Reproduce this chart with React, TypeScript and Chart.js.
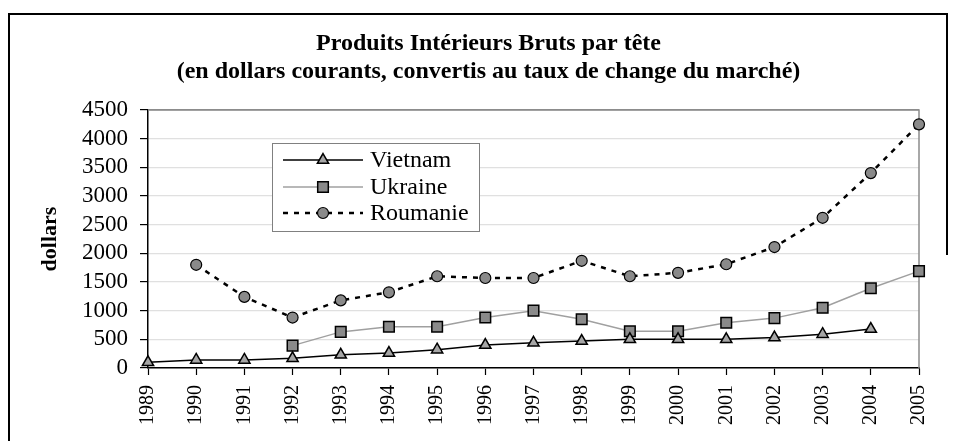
import React, { useEffect, useRef } from 'react';
import { Chart, registerables } from 'chart.js';
import { drawPoint } from 'chart.js/helpers';

Chart.register(...registerables);

const years = ['1989', '1990', '1991', '1992', '1993', '1994', '1995', '1996', '1997', '1998', '1999', '2000', '2001', '2002', '2003', '2004', '2005'];
const vietnam = [100, 140, 140, 170, 230, 260, 320, 400, 440, 470, 500, 500, 500, 530, 590, 680, null];
const ukraine = [null, null, null, 390, 630, 720, 720, 880, 1000, 850, 640, 640, 790, 870, 1050, 1390, 1690];
const roumanie = [null, 1800, 1240, 880, 1180, 1320, 1600, 1570, 1570, 1870, 1600, 1660, 1810, 2110, 2620, 3400, 4250];
const seriesNames = ['Vietnam', 'Ukraine', 'Roumanie'];
const yTicks = [0, 500, 1000, 1500, 2000, 2500, 3000, 3500, 4000, 4500];
const titleLines = ['Produits Intérieurs Bruts par tête', '(en dollars courants, convertis au taux de change du marché)'];
const yTitle = 'dollars';

const SERIF = "'Liberation Serif', 'Times New Roman', serif";
const yMin = yTicks[0];
const yMax = yTicks[yTicks.length - 1];

const framePlugin = {
  id: 'frame',
  beforeDraw(chart: any) {
    const { ctx, width, height } = chart;
    ctx.save();
    ctx.fillStyle = '#fff';
    ctx.fillRect(0, 0, width, height);
    ctx.strokeStyle = '#000';
    ctx.lineWidth = 2;
    ctx.beginPath();
    ctx.moveTo(9, height);
    ctx.lineTo(9, 14);
    ctx.lineTo(947, 14);
    ctx.lineTo(947, 255);
    ctx.stroke();
    ctx.restore();
  },
};

const plotBorderPlugin = {
  id: 'plotBorder',
  beforeDatasetsDraw(chart: any) {
    const { ctx, chartArea } = chart;
    ctx.save();
    ctx.strokeStyle = '#8c8c8c';
    ctx.lineWidth = 1.5;
    ctx.beginPath();
    ctx.moveTo(chartArea.left, chartArea.top);
    ctx.lineTo(chartArea.right, chartArea.top);
    ctx.lineTo(chartArea.right, chartArea.bottom);
    ctx.stroke();
    ctx.restore();
  },
};

const innerLegendPlugin = {
  id: 'innerLegend',
  afterDatasetsDraw(chart: any) {
    const { ctx, chartArea } = chart;
    const bx = chartArea.left + 124;
    const by = chartArea.top + 33;
    const bw = 207;
    const bh = 88;
    ctx.save();
    ctx.fillStyle = '#fff';
    ctx.fillRect(bx, by, bw, bh);
    ctx.strokeStyle = '#808080';
    ctx.lineWidth = 1;
    ctx.strokeRect(bx + 0.5, by + 0.5, bw, bh);
    const rows = [17, 44, 70];
    chart.data.datasets.forEach((ds: any, i: number) => {
      const y = by + rows[i];
      ctx.save();
      ctx.strokeStyle = ds.borderColor;
      ctx.lineWidth = ds.borderWidth;
      ctx.setLineDash(ds.borderDash || []);
      ctx.beginPath();
      ctx.moveTo(bx + 11, y);
      ctx.lineTo(bx + 91, y);
      ctx.stroke();
      ctx.restore();
      ctx.save();
      ctx.fillStyle = ds.pointBackgroundColor;
      ctx.strokeStyle = ds.pointBorderColor;
      ctx.lineWidth = ds.pointBorderWidth;
      drawPoint(ctx, { pointStyle: ds.pointStyle, radius: ds.pointRadius, borderWidth: ds.pointBorderWidth, rotation: 0 } as any, bx + 51, y);
      ctx.restore();
      ctx.fillStyle = '#000';
      ctx.font = `24px ${SERIF}`;
      ctx.textBaseline = 'middle';
      ctx.textAlign = 'left';
      ctx.fillText(ds.label, bx + 98, y + 1);
    });
    ctx.restore();
  },
};

export default function App() {
  const ref = useRef<HTMLCanvasElement | null>(null);
  useEffect(() => {
    if (!ref.current) return;
    const chart = new Chart(ref.current, {
      type: 'line',
      data: {
        labels: years,
        datasets: [
          {
            label: seriesNames[0],
            data: vietnam,
            borderColor: '#000',
            borderWidth: 1.5,
            pointStyle: 'triangle',
            pointRadius: 6.5,
            pointBackgroundColor: '#a6a6a6',
            pointBorderColor: '#000',
            pointBorderWidth: 1.5,
            tension: 0,
          },
          {
            label: seriesNames[1],
            data: ukraine,
            borderColor: '#a0a0a0',
            borderWidth: 1.5,
            pointStyle: 'rect',
            pointRadius: 7.5,
            pointBackgroundColor: '#8a8a8a',
            pointBorderColor: '#000',
            pointBorderWidth: 1.5,
            tension: 0,
          },
          {
            label: seriesNames[2],
            data: roumanie,
            borderColor: '#000',
            borderWidth: 2.5,
            borderDash: [5, 6],
            pointStyle: 'circle',
            pointRadius: 5.5,
            pointBackgroundColor: '#8a8a8a',
            pointBorderColor: '#000',
            pointBorderWidth: 1.2,
            tension: 0,
          },
        ] as any,
      },
      options: {
        responsive: false,
        animation: false,
        devicePixelRatio: 1,
        layout: { padding: { left: 52, right: 28, top: 16, bottom: 10 } },
        plugins: {
          legend: { display: false },
          tooltip: { enabled: false },
          title: {
            display: true,
            text: titleLines,
            color: '#000',
            font: { family: SERIF, size: 24, weight: 'bold', lineHeight: '28px' as any },
            padding: { top: 14, bottom: 24 },
          },
        },
        scales: {
          x: {
            type: 'category',
            offset: false,
            grid: { drawOnChartArea: false, drawTicks: true, tickLength: 7, tickColor: '#000', tickWidth: 1.2 },
            border: { color: '#000', width: 1.5 },
            ticks: {
              color: '#000',
              font: { family: SERIF, size: 20 },
              minRotation: 90,
              maxRotation: 90,
              padding: 10,
              autoSkip: false,
            },
            afterFit: (s: any) => { s.height = 63; },
          },
          y: {
            min: yMin,
            max: yMax,
            afterBuildTicks: (s: any) => { s.ticks = yTicks.map((v) => ({ value: v })); },
            ticks: {
              autoSkip: false,
              color: '#000',
              font: { family: SERIF, size: 23, lineHeight: 1 },
              padding: 12,
              callback: (v: any) => String(v),
            },
            grid: {
              color: (c: any) => (c.tick && c.tick.value === yMax ? '#8c8c8c' : '#e0e0e0'),
              lineWidth: 1.2,
              tickLength: 8,
              tickColor: '#000',
              tickWidth: 1.2,
            },
            border: { color: '#000', width: 1.5 },
            title: {
              display: true,
              text: yTitle,
              color: '#000',
              font: { family: SERIF, size: 22, weight: 'bold', lineHeight: 1.2 },
              padding: { top: -15, bottom: 0 },
            },
            afterFit: (s: any) => { s.width = 96; },
          },
        },
      },
      plugins: [framePlugin, plotBorderPlugin, innerLegendPlugin],
    });
    return () => chart.destroy();
  }, []);
  return (
    <div style={{ position: 'fixed', left: 0, top: 0, width: 953, height: 441, background: '#fff' }}>
      <canvas ref={ref} width={953} height={441} style={{ width: 953, height: 441, display: 'block' }} />
    </div>
  );
}
